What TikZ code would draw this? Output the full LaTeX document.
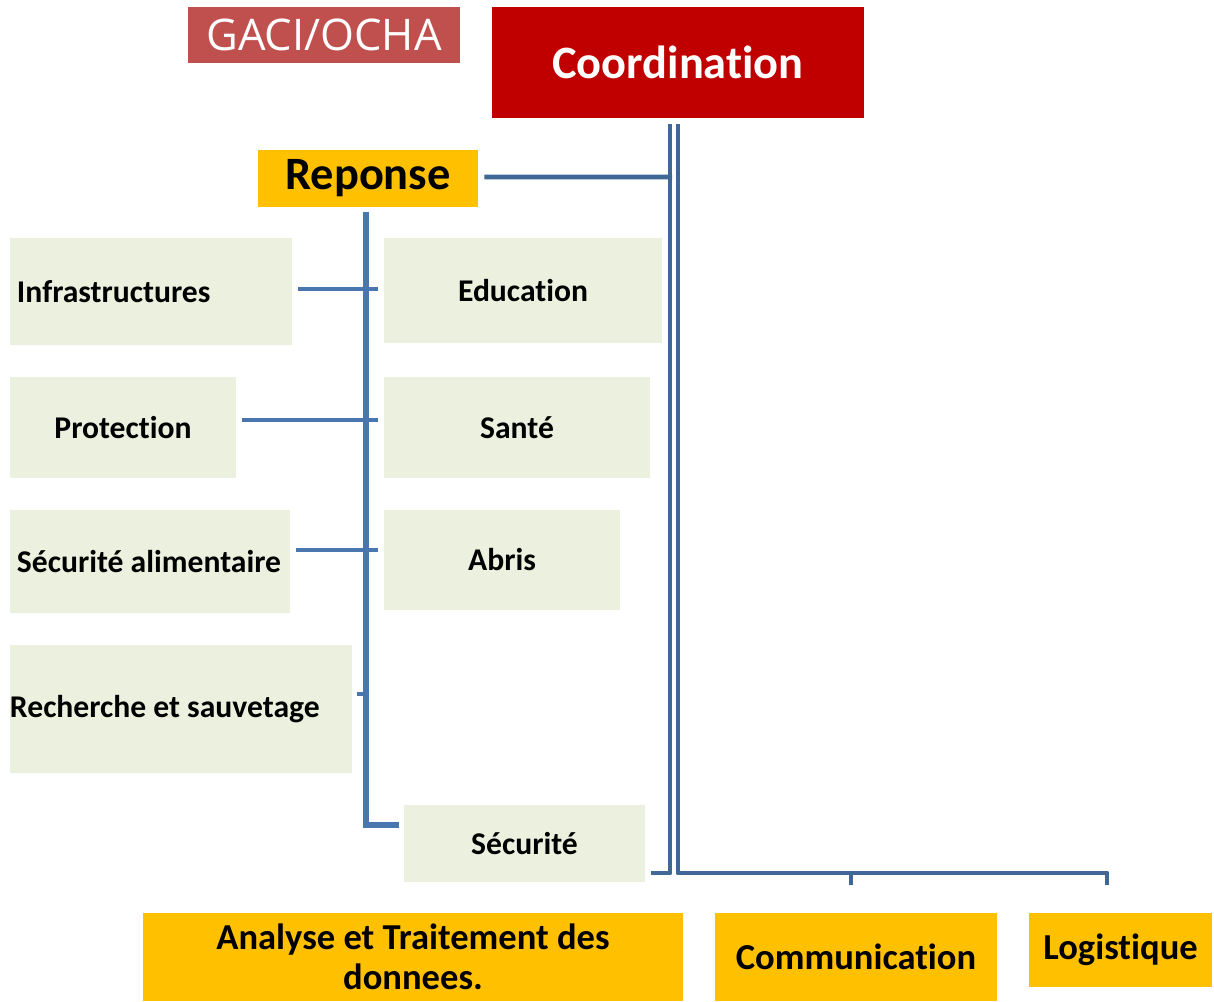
\documentclass[tikz,border=0pt]{standalone}
\usepackage{fontspec}
\setmainfont{Carlito}[Ligatures=NoCommon]
\newfontfamily\gacifont{Open Sans}
\usetikzlibrary{positioning}
\definecolor{cellgreen}{HTML}{EBF1DE}
\definecolor{gold}{HTML}{FFC000}
\definecolor{darkred}{HTML}{C00000}
\definecolor{brick}{HTML}{C0504D}
\definecolor{linkblue}{HTML}{4A76B0}
\definecolor{coordblue}{HTML}{3F6896}
\tikzset{every node/.style={inner sep=0pt}, % boxes are sized by hand
cluster/.style={ % green boxes of the response clusters
fill=cellgreen, font=\fontsize{22.5}{26}\selectfont\bfseries},
service/.style={ % yellow boxes of the common services
fill=gold, font=\fontsize{26}{28.5}\selectfont\bfseries, align=center},
resp/.style={draw=linkblue, line width=3.5pt},
coord/.style={draw=coordblue, line width=3.5pt, line join=round}}

\begin{document}
\begin{tikzpicture}
    \useasboundingbox (0,0) rectangle (30.35,-25.025);

    \node[fill=brick, text=white, font=\gacifont\fontsize{31}{34}\selectfont, minimum width=6.8cm, minimum height=1.4cm] (gaci) at (8.1,-0.875) {GACI/OCHA};
    \node[fill=darkred, text=white, font=\fontsize{33}{36}\selectfont\bfseries, minimum width=9.3cm, minimum height=2.775cm] (coordination) at (16.95,-1.5625) {Coordination};
    \node[fill=gold, font=\fontsize{33}{36}\selectfont\bfseries, minimum width=5.5cm, minimum height=1.425cm] (reponse) at (9.2,-4.4625) {Reponse};

    \node[cluster, minimum height=2.675cm, text width=6.7cm, inner xsep=0.175cm, align=flush left] (infra) at (3.775,-7.2875) {Infrastructures};
    \node[cluster, minimum width=6.95cm, minimum height=2.625cm] (education) at (13.075,-7.2625) {Education};
    \node[cluster, minimum width=5.65cm, minimum height=2.525cm] (protection) at (3.075,-10.6875) {Protection};
    \node[cluster, minimum width=6.65cm, minimum height=2.525cm] (sante) at (12.925,-10.6875) {Santé};
    \node[cluster, minimum height=2.575cm, text width=6.65cm, inner xsep=0.175cm, align=flush left] (secal) at (3.75,-14.0375) {\mbox{Sécurité alimentaire}};
    \node[cluster, minimum width=5.9cm, minimum height=2.5cm] (abris) at (12.55,-14.0) {Abris};
    \node[cluster, minimum height=3.2cm, text width=8.55cm, align=flush left] (recherche) at (4.525,-17.725) {\mbox{Recherche et sauvetage}};
    \node[cluster, minimum width=6.025cm, minimum height=1.925cm] (securite) at (13.1125,-21.0875) {Sécurité};

    \node[service, minimum width=13.5cm, minimum height=2.2cm] (analyse) at (10.325,-23.925) {Analyse et Traitement des\\donnees.};
    \node[service, minimum width=7.05cm, minimum height=2.2cm] (communication) at (21.4,-23.925) {\raisebox{-0.12cm}{Communication}};
    \node[service, minimum width=4.575cm, minimum height=1.85cm] (logistique) at (28.0125,-23.75) {Logistique};

    % response tree
    \coordinate (rtop) at (9.15,-5.3);
    \draw[resp, line width=4.5pt] (rtop) |- ([xshift=-0.125cm, yshift=0.4625cm]securite.west);
    \draw[resp] ([xshift=0.15cm, yshift=0.0625cm]infra.east) -- (9.45,-7.225);
    \draw[resp] ([xshift=0.15cm, yshift=0.1875cm]protection.east) -- (9.45,-10.5);
    \draw[resp] ([xshift=0.15cm, yshift=0.2875cm]secal.east) -- (9.45,-13.75);
    \draw[resp] ([xshift=0.125cm, yshift=0.375cm]recherche.east) -- (9.15,-17.35);
    \draw[coord] ([xshift=0.15cm, yshift=0.0375cm]reponse.east) -- (16.8,-4.425);

    % coordination tree
    \coordinate (cleft) at (16.75,-3.1);
    \coordinate (cright) at (16.95,-3.1);
    \draw[coord] (cleft) -- (16.75,-21.825) -- (16.275,-21.825);
    \draw[coord] (cright) -- (16.95,-21.825) -- (27.675,-21.825) -- (27.675,-22.125);
    \draw[coord] (21.275,-21.825) -- (21.275,-22.125);
\end{tikzpicture}
\end{document}
